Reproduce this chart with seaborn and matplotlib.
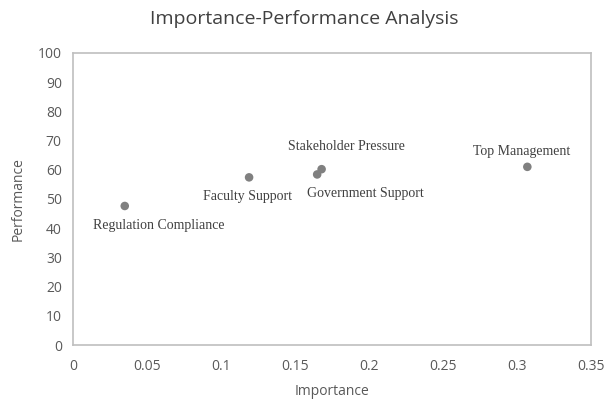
# Importance-Performance Analysis scatter

import pandas as pd
import matplotlib.pyplot as plt
import seaborn as sns

factors = ["Regulation Compliance", "Faculty Support", "Stakeholder Pressure",
           "Government Support", "Top Management"]
importance = [0.035, 0.119, 0.168, 0.165, 0.307]
performance = [47.6, 57.4, 60.2, 58.4, 61.0]

df = pd.DataFrame({"factor": factors, "importance": importance, "performance": performance})

# label offsets in pixels relative to each point
label_offsets = {
    "Regulation Compliance": (34, -20),
    "Faculty Support": (-2, -19),
    "Stakeholder Pressure": (25, 23),
    "Government Support": (48, -19),
    "Top Management": (-6, 15),
}

sns.set_style("white")
plt.rcParams["font.family"] = ["Open Sans", "DejaVu Sans"]

fig = plt.figure(figsize=(6.08, 4.04), dpi=100)
ax = fig.add_axes([0.12, 0.146, 0.852, 0.723])

sns.scatterplot(data=df, x="importance", y="performance", color="#808080",
                s=38, edgecolor="none", ax=ax)

for _, row in df.iterrows():
    dx, dy = label_offsets[row["factor"]]
    ax.annotate(row["factor"], (row["importance"], row["performance"]),
                xytext=(dx, dy), textcoords="offset pixels",
                ha="center", va="center", fontsize=10,
                family="Liberation Serif", color="#404040")

ax.set_xlim(0, 0.35)
ax.set_ylim(0, 100)
ax.set_xticks([0, 0.05, 0.1, 0.15, 0.2, 0.25, 0.3, 0.35])
ax.set_xticklabels(["0", "0.05", "0.1", "0.15", "0.2", "0.25", "0.3", "0.35"])
ax.set_yticks(range(0, 101, 10))
ax.tick_params(colors="#595959", labelsize=10, length=0)
ax.tick_params(axis="x", pad=10)
ax.tick_params(axis="y", pad=8)

for spine in ax.spines.values():
    spine.set_color("#bfbfbf")
    spine.set_linewidth(1.2)

ax.set_xlabel("Importance", color="#595959", fontsize=10, labelpad=7)
ax.set_ylabel("Performance", color="#595959", fontsize=10, labelpad=9)
fig.suptitle("Importance-Performance Analysis", y=0.975, fontsize=14, color="#404040")

fig.savefig("out.png", dpi=100)
